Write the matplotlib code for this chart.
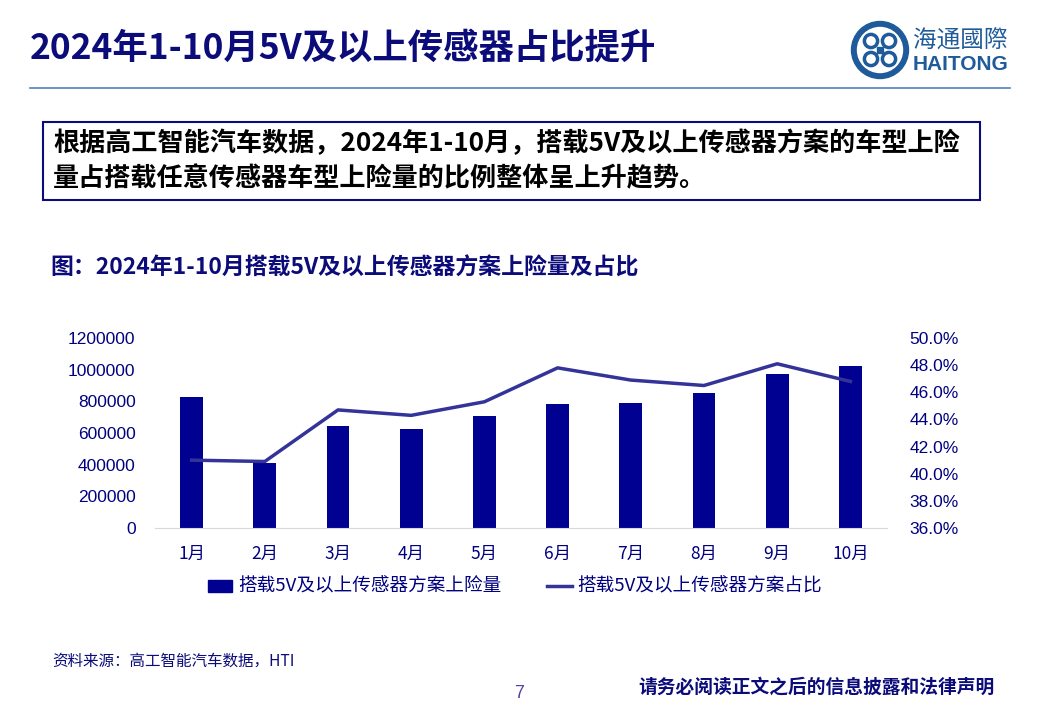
import matplotlib.pyplot as plt
from matplotlib.patches import Rectangle, Circle
from matplotlib.lines import Line2D
from matplotlib.ticker import FuncFormatter

plt.rcParams['font.family'] = ['Liberation Sans', 'Noto Sans CJK SC', 'DejaVu Sans']

# ---------- DATA ----------
months = ["1月", "2月", "3月", "4月", "5月", "6月", "7月", "8月", "9月", "10月"]
volume = [825000, 410000, 642000, 625000, 709000, 781000, 787000, 852000, 970000, 1023000]
share = [41.0, 40.9, 44.7, 44.3, 45.3, 47.8, 46.9, 46.5, 48.1, 46.8]
bar_label = "搭载5V及以上传感器方案上险量"
line_label = "搭载5V及以上传感器方案占比"
title = "2024年1-10月5V及以上传感器占比提升"
summary = ["根据高工智能汽车数据，2024年1-10月，搭载5V及以上传感器方案的车型上险",
           "量占搭载任意传感器车型上险量的比例整体呈上升趋势。"]
chart_title = "图：2024年1-10月搭载5V及以上传感器方案上险量及占比"
source = "资料来源：高工智能汽车数据，HTI"
footer = "请务必阅读正文之后的信息披露和法律声明"
# --------------------------

NAVY = "#0b0b7a"
BAR = "#000091"
LINE = "#333399"
TICK = "#000080"
CJK = ['Noto Sans CJK SC', 'DejaVu Sans']

W, H = 1039, 718
fig = plt.figure(figsize=(W / 100, H / 100), dpi=100)
fig.patch.set_facecolor("white")


def fx(x):
    return x / W


def fy(y):
    return 1 - y / H


# header
fig.text(fx(30), fy(48), title, fontsize=25.5, fontweight="bold", color=NAVY,
         family=CJK, va="center", ha="left")
fig.add_artist(Line2D([fx(30), fx(1010)], [fy(88), fy(88)], color="#4f81bd", lw=1.2))

# logo
logo_ax = fig.add_axes([fx(850), fy(80), fx(60), 60 / H])
logo_ax.set_xlim(-1, 1)
logo_ax.set_ylim(-1, 1)
logo_ax.set_aspect("equal")
logo_ax.axis("off")
logo_ax.add_patch(Circle((0, 0), 0.95, color="#1f5a9a"))
logo_ax.add_patch(Circle((0, 0), 0.75, color="white"))
for dx, dy in [(0.3, 0.3), (-0.3, 0.3), (0.3, -0.3), (-0.3, -0.3)]:
    logo_ax.add_patch(Circle((dx, dy), 0.22, fill=False, ec="#1f5a9a", lw=2.5))
logo_ax.add_patch(Rectangle((-0.1, -0.1), 0.2, 0.2, color="#1f5a9a"))
fig.text(fx(913), fy(40), "海通國際", fontsize=17, color="#1f5a9a", family=CJK,
         va="center", ha="left")
fig.text(fx(913), fy(65), "HAITONG", fontsize=15, fontweight="bold", color="#1f5a9a",
         va="center", ha="left")

# summary box
fig.add_artist(Rectangle((fx(43), fy(200)), fx(980 - 43), (200 - 122) / H,
                         fill=False, ec=NAVY, lw=1.5))
fig.text(fx(53), fy(144), summary[0], fontsize=18.8, fontweight="bold", color="black",
         family=CJK, va="center", ha="left")
fig.text(fx(53), fy(179), summary[1], fontsize=18.8, fontweight="bold", color="black",
         family=CJK, va="center", ha="left")

fig.text(fx(50), fy(268), chart_title, fontsize=16.5, fontweight="bold", color=NAVY,
         family=CJK, va="center", ha="left")

# chart
ax = fig.add_axes([fx(155), fy(528), fx(732), 190 / H])
x = list(range(len(months)))
ax.bar(x, volume, width=0.31, color=BAR, zorder=2)
ax.set_xlim(-0.5, len(months) - 0.5)
ax.set_ylim(0, 1200000)
ax.set_yticks(range(0, 1200001, 200000))
ax.yaxis.set_major_formatter(FuncFormatter(lambda v, p: f"{int(v)}"))
ax.set_xticks(x)
ax.set_xticklabels(months, family=CJK, fontsize=12.5, color=TICK)
for s in ["top", "right", "left"]:
    ax.spines[s].set_visible(False)
ax.spines["bottom"].set_color("#d9d9d9")
ax.tick_params(axis="both", length=0, labelsize=12.5, colors=TICK)
ax.tick_params(axis="y", pad=14)
ax.tick_params(axis="x", pad=12)

ax2 = ax.twinx()
ax2.plot(x, share, color=LINE, lw=2.5, zorder=3)
ax2.set_ylim(36, 50)
ax2.set_yticks([36, 38, 40, 42, 44, 46, 48, 50])
ax2.yaxis.set_major_formatter(FuncFormatter(lambda v, p: f"{v:.1f}%"))
for s in ["top", "right", "left", "bottom"]:
    ax2.spines[s].set_visible(False)
ax2.tick_params(axis="y", length=0, labelsize=12.5, colors=TICK, pad=16)

# legend
fig.add_artist(Rectangle((fx(208), fy(592)), fx(24), 12 / H, color=BAR))
fig.text(fx(238), fy(586), bar_label, fontsize=13.4, color=TICK, family=CJK,
         va="center", ha="left")
fig.add_artist(Line2D([fx(547), fx(572)], [fy(586), fy(586)], color=LINE, lw=2.5))
fig.text(fx(577), fy(586), line_label, fontsize=13.4, color=TICK, family=CJK,
         va="center", ha="left")

# footer
fig.text(fx(52), fy(661), source, fontsize=11.2, color=NAVY, family=CJK,
         va="center", ha="left")
fig.text(fx(519), fy(693), "7", fontsize=13, color="#5a3ea0", va="center", ha="center")
fig.text(fx(995), fy(687), footer, fontsize=13.5, fontweight="bold", color=NAVY,
         family=CJK, va="center", ha="right")

fig.savefig("out.png", dpi=100)
